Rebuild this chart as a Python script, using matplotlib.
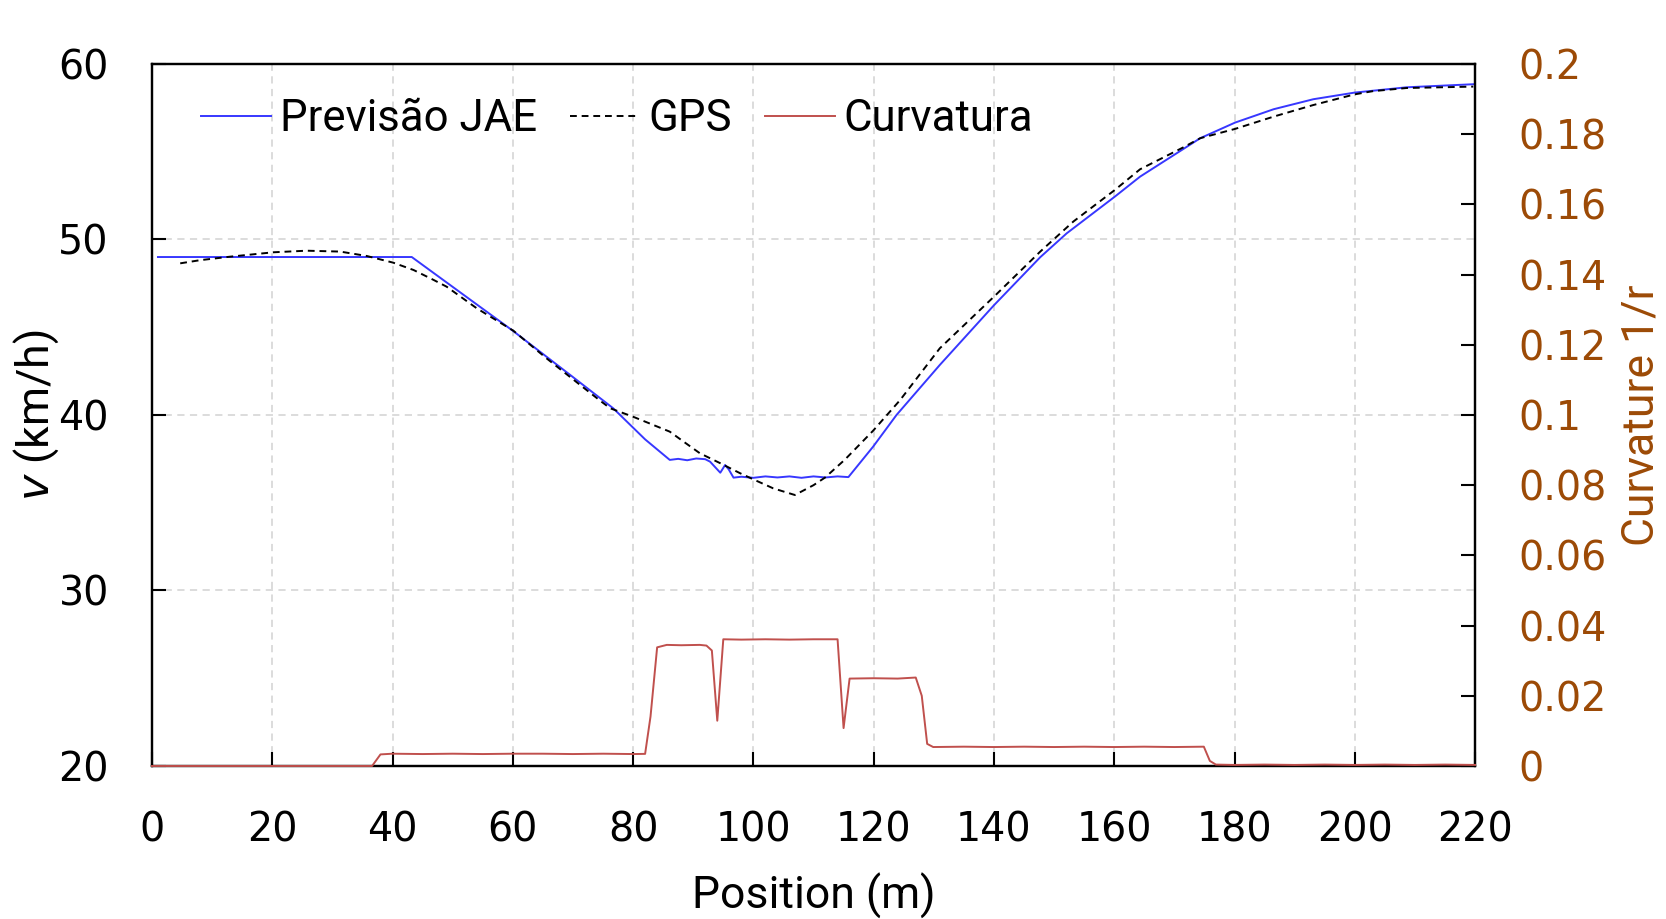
import matplotlib
matplotlib.use("Agg")
import matplotlib.pyplot as plt
from matplotlib.ticker import FuncFormatter

# posição (m) e velocidade prevista (km/h)
prev_x = [1, 10, 20, 30, 40, 43.2, 50, 60, 70, 76.7, 82, 86.1, 87.5, 89, 90.5, 92,
          92.8, 94.5, 95.3, 95.9, 96.7, 98, 100, 102, 104, 106, 108, 110, 112, 114, 115.8,
          119.9, 123.8, 131, 140, 147.7, 152.1, 160.1, 164.3, 174.3, 180.1,
          186.5, 193.1, 200, 208.6, 220]
prev_v = [49, 49, 49, 49, 49, 49, 47.3, 44.8, 42.16, 40.38, 38.61, 37.44, 37.50, 37.42, 37.52, 37.48,
          37.34, 36.71, 37.15, 36.90, 36.43, 36.48, 36.42, 36.50, 36.44, 36.50, 36.42, 36.50, 36.44, 36.50, 36.46,
          38.19, 40.0, 42.85, 46.25, 48.99, 50.35, 52.44, 53.58, 55.77, 56.66,
          57.42, 57.99, 58.37, 58.67, 58.85]

# GPS
gps_x = [4.7, 8, 13, 20.2, 25.7, 31.3, 35.7, 37.9, 40.1, 43.5, 46.8, 49, 54, 60.1, 65.6,
         71.2, 74.5, 76.2, 80, 86.1, 88.4, 91.1, 94.5, 97.8, 100, 103.3, 106.9, 110, 111.9, 115.2,
         119.9, 124.4, 131, 140, 147.7, 153.2, 160.1, 164.3, 171.5, 174.3, 180.1, 186.5, 193.1, 200, 203,
         208.6, 219.7]
gps_v = [48.64, 48.82, 49.02, 49.27, 49.36, 49.31, 49.06, 48.87, 48.68, 48.26, 47.7, 47.31, 46.08, 44.8, 43.23,
         41.71, 40.82, 40.38, 39.9, 39.05, 38.48, 37.82, 37.25, 36.68, 36.33, 35.82, 35.44, 36.0, 36.43, 37.45,
         39.1, 40.85, 43.8, 46.74, 49.31, 51.02, 52.82, 54.0, 55.25, 55.77, 56.3, 57.0, 57.66, 58.27, 58.45,
         58.63, 58.71]

# curvatura 1/r
curv_x = [0, 5, 10, 15, 20, 25, 30, 35, 36.6, 38, 40, 45, 50, 55, 60, 65, 70, 75, 80, 82,
          82.9, 84, 85.6, 88, 91.1, 92.2, 93.1, 94, 95, 98, 102, 106, 110, 114, 115,
          116, 120, 124, 127, 128, 128.9, 129.9, 135, 140, 145, 150, 155, 160, 165, 170,
          174.9, 175.9, 176.9, 180, 185, 190, 195, 200, 205, 210, 215, 220]
curv_y = [0, 0, 0, 0, 0, 0, 0, 0, 0, 0.0033, 0.0035, 0.0034, 0.0035, 0.0034, 0.0035, 0.0035, 0.0034, 0.0035, 0.0034, 0.00345,
          0.0141, 0.0338, 0.0345, 0.0344, 0.0345, 0.0343, 0.0329, 0.0129, 0.0361, 0.0360, 0.0361, 0.0360, 0.0361, 0.0361, 0.0108,
          0.0249, 0.0250, 0.0249, 0.0252, 0.0200, 0.0063, 0.0054, 0.0055, 0.0054, 0.0055, 0.0054, 0.0055, 0.0054, 0.0055, 0.0054,
          0.0055, 0.00145, 0.0004, 0.0003, 0.0004, 0.0003, 0.0004, 0.0003, 0.0004, 0.0003, 0.0004, 0.0003]

brown = "#9C4A06"
lab_font = "Roboto"

fig = plt.figure(figsize=(16.66, 9.19), dpi=100)
ax = fig.add_axes([0.0912, 0.1665, 0.7942, 0.7639])
ax2 = ax.twinx()

l1, = ax.plot(prev_x, prev_v, color="#3737ff", lw=1.4, label="Previsão JAE")
l2, = ax.plot(gps_x, gps_v, color="black", lw=1.4, ls=(0, (3.5, 2.5)), label="GPS")
l3, = ax2.plot(curv_x, curv_y, color="#c0504d", lw=1.4, label="Curvatura", zorder=3, clip_on=False)

ax.set_xlim(0, 220)
ax.set_ylim(20, 60)
ax2.set_ylim(0, 0.2)
ax.set_xticks(range(0, 221, 20))
ax.set_yticks(range(20, 61, 10))
ax2.set_yticks([i * 0.02 for i in range(11)])
ax2.yaxis.set_major_formatter(FuncFormatter(lambda v, p: "%g" % round(v, 2)))

ax.grid(True, color="#d9d9d9", lw=1.3, ls=(0, (4, 3)))
ax.set_axisbelow(True)

for a in (ax, ax2):
    for s in a.spines.values():
        s.set_linewidth(1.6)
ax.tick_params(axis="both", direction="in", length=10, width=1.5, labelsize=28.5, pad=31)
ax.tick_params(axis="x", top=False, pad=32)
ax2.tick_params(axis="y", direction="in", length=10, width=1.5, labelsize=28.5, pad=31, labelcolor=brown)

ax.set_xlabel("Position (m)", fontsize=32, family=lab_font, labelpad=16)
ax.set_ylabel(r"$\mathit{v}$ (km/h)", fontsize=32, family=lab_font, labelpad=-2)
ax2.set_ylabel("Curvature 1/r", fontsize=32, family=lab_font, color=brown, labelpad=10)

ax2.legend(handles=[l1, l2, l3], loc="center left", bbox_to_anchor=(0.037, 0.921), ncol=3,
           frameon=False, borderpad=0, borderaxespad=0, handlelength=1.6, handletextpad=0.2,
           columnspacing=0.75, prop={"family": lab_font, "size": 31.5})

fig.savefig("out.png", dpi=100)
